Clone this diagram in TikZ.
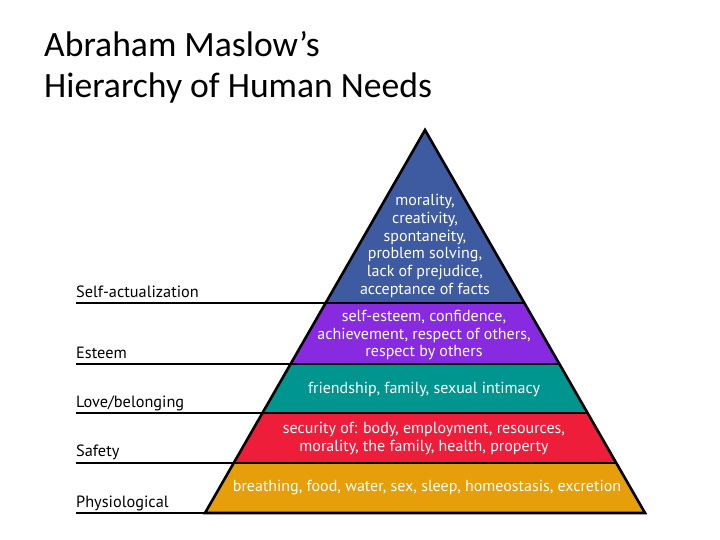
\documentclass[tikz,border=0pt]{standalone}
\usepackage{fontspec}
\setmainfont{Carlito}
\newfontfamily\levelfont{PT Sans}
\usepackage{xcolor}
\usetikzlibrary{calc}
\definecolor{selfblue}{RGB}{62,90,160}
\definecolor{esteempurple}{RGB}{136,42,224}
\definecolor{loveteal}{RGB}{0,150,143}
\definecolor{safetyred}{RGB}{238,30,58}
\definecolor{physioamber}{RGB}{230,158,10}

\begin{document}
\begin{tikzpicture}[
  x=1pt, y=-1pt,
  outline/.style={draw=black, line width=2.6pt, line join=miter},
  need/.style={text=white, align=center, inner sep=0pt, font=\levelfont\fontsize{16}{17.8}\selectfont},
  level/.style={anchor=base west, inner sep=0pt, font=\levelfont\fontsize{16.3}{18}\selectfont},
  title/.style={anchor=base west, inner sep=0pt, font=\fontsize{35.6}{40}\selectfont},
  rule/.style={draw=black, line width=1.6pt}
]
\useasboundingbox (0,0) rectangle (720,540);
\node[title] (titletop) at (44,57) {Abraham Maslow’s};
\node[title] (titlebottom) at (44,98) {Hierarchy of Human Needs};
\coordinate (apex) at (425,130);
\coordinate (bl) at (205,513);
\coordinate (br) at (645,513);
\coordinate (l1) at ($(apex)!0.4517!(bl)$); \coordinate (r1) at ($(apex)!0.4517!(br)$);
\coordinate (l2) at ($(apex)!0.6110!(bl)$); \coordinate (r2) at ($(apex)!0.6110!(br)$);
\coordinate (l3) at ($(apex)!0.7389!(bl)$); \coordinate (r3) at ($(apex)!0.7389!(br)$);
\coordinate (l4) at ($(apex)!0.8695!(bl)$); \coordinate (r4) at ($(apex)!0.8695!(br)$);
\fill[selfblue] (apex) -- (r1) -- (l1) -- cycle;
\fill[esteempurple] (l1) -- (r1) -- (r2) -- (l2) -- cycle;
\fill[loveteal] (l2) -- (r2) -- (r3) -- (l3) -- cycle;
\fill[safetyred] (l3) -- (r3) -- (r4) -- (l4) -- cycle;
\fill[physioamber] (l4) -- (r4) -- (br) -- (bl) -- cycle;
\draw[rule] (76,303) -- (l1);
\draw[rule] (76,364) -- (l2);
\draw[rule] (76,413) -- (l3);
\draw[rule] (76,463) -- (l4);
\draw[rule] (76,513) -- (bl);
\draw[outline] (apex) -- (br) -- (bl) -- cycle;
\draw[outline] (l1) -- (r1);
\draw[outline] (l2) -- (r2);
\draw[outline] (l3) -- (r3);
\draw[outline] (l4) -- (r4);
\node[need] (selfneeds) at (425,246) {morality,\\creativity,\\spontaneity,\\problem solving,\\lack of prejudice,\\acceptance of facts};
\node[need] (esteemneeds) at (424,335) {self-esteem, confidence,\\achievement, respect of others,\\respect by others};
\node[need] (loveneeds) at (424,389) {friendship, family, sexual intimacy};
\node[need] (safetyneeds) at (424,438.5) {security of: body, employment, resources,\\morality, the family, health, property};
\node[need] (physioneeds) at (427,488) {breathing, food, water, sex, sleep, homeostasis, excretion};
\node[level] (selflabel) at (76,297) {Self-actualization};
\node[level] (esteemlabel) at (76,358) {Esteem};
\node[level] (lovelabel) at (76,407) {Love/belonging};
\node[level] (safetylabel) at (76,456) {Safety};
\node[level] (physiolabel) at (76,507) {Physiological};
\end{tikzpicture}
\end{document}
